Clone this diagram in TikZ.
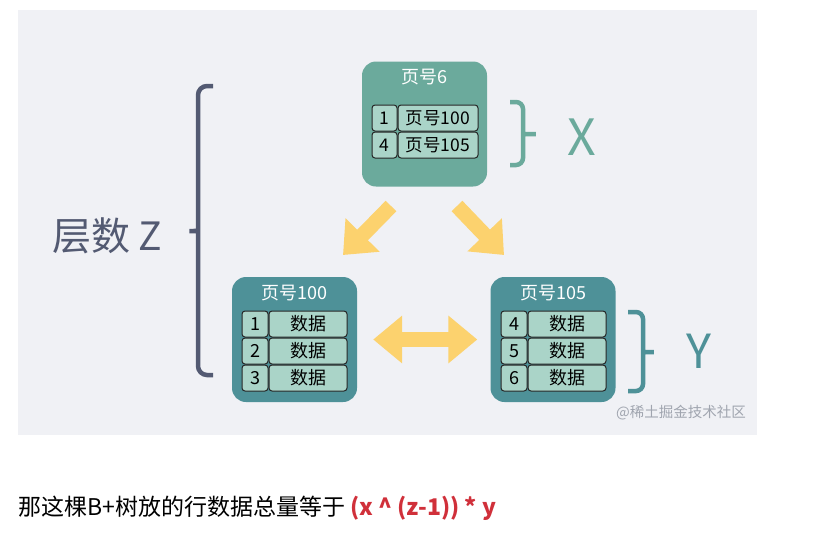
\documentclass[tikz,border=0pt]{standalone}
\usepackage{fontspec}
\setmainfont{Noto Sans CJK SC}
\usepackage{xcolor}
\usetikzlibrary{arrows.meta, positioning}

\definecolor{panelgray}{HTML}{F0F1F5}
\definecolor{topteal}{HTML}{6BAA9C}
\definecolor{lowteal}{HTML}{4E9198}
\definecolor{cellfill}{HTML}{AAD4C8}
\definecolor{arrowyellow}{HTML}{FCD26E}
\definecolor{slate}{HTML}{535A72}
\definecolor{formulared}{HTML}{D0303A}
\definecolor{markgray}{HTML}{A0A5AF}

\tikzset{
  page/.style={rounded corners=14pt, minimum width=125pt, minimum height=125pt, inner sep=0pt},
  title/.style={text=white, font=\fontsize{18}{18}\selectfont, inner sep=0pt},
  keycell/.style={draw=black!85, line width=1pt, fill=cellfill, rounded corners=3pt,
    minimum width=26pt, minimum height=26pt, inner sep=0pt, font=\fontsize{18}{18}\selectfont},
  valcell/.style={keycell, minimum width=78pt},
  fatarrow/.style={draw=arrowyellow, line width=15pt},
  bracket/.style={line width=4.5pt, rounded corners=9pt},
}

\begin{document}
\begin{tikzpicture}[x=1pt, y=-1pt]
        \useasboundingbox (0,0) rectangle (818,544);
        \fill[panelgray] (18,10) rectangle (757,435);

        % top page
        \node[page, fill=topteal] (p6) at (424.5,124) {};
        \node[title] (t6) at ([yshift=-16pt]p6.north) {页号6};
        \node[keycell, minimum width=25pt, font=\fontsize{17.5}{17.5}\selectfont] (k61) at (384.5,118) {1};
        \node[valcell, minimum width=80pt, font=\fontsize{17.5}{17.5}\selectfont, right=0pt of k61] (v61) {页号100};
        \node[keycell, minimum width=25pt, font=\fontsize{17.5}{17.5}\selectfont, below=0pt of k61] (k62) {4};
        \node[valcell, minimum width=80pt, font=\fontsize{17.5}{17.5}\selectfont, right=0pt of k62] (v62) {页号105};

        % leaf pages
        \node[page, fill=lowteal] (p100) at (294.5,339.5) {};
        \node[title] (t100) at ([yshift=-16pt]p100.north) {页号100};
        \node[keycell] (k1) at (255,324) {1};
        \node[valcell, right=0pt of k1] (d1) {数据};
        \node[keycell, below=0pt of k1] (k2) {2};
        \node[valcell, right=0pt of k2] (d2) {数据};
        \node[keycell, below=0pt of k2] (k3) {3};
        \node[valcell, right=0pt of k3] (d3) {数据};

        \node[page, fill=lowteal] (p105) at (553,339.5) {};
        \node[title] (t105) at ([yshift=-16pt]p105.north) {页号105};
        \node[keycell] (k4) at (514,324) {4};
        \node[valcell, right=0pt of k4] (d4) {数据};
        \node[keycell, below=0pt of k4] (k5) {5};
        \node[valcell, right=0pt of k5] (d5) {数据};
        \node[keycell, below=0pt of k5] (k6) {6};
        \node[valcell, right=0pt of k6] (d6) {数据};

        % yellow arrows
        \coordinate (la) at (391,206);
        \coordinate (lb) at (343,255);
        \coordinate (ra) at (457,206);
        \coordinate (rb) at (504,255);
        \draw[fatarrow, -{Triangle[length=28pt,width=46pt]}] (la) -- (lb);
        \draw[fatarrow, -{Triangle[length=28pt,width=46pt]}] (ra) -- (rb);
        \draw[fatarrow, {Triangle[length=29pt,width=46pt]}-{Triangle[length=29pt,width=46pt]},
          shorten <=16pt, shorten >=13pt] (p100) -- (p105);

        % braces and labels
        \draw[bracket, draw=slate] (213,86) -| (198,224) .. controls (198,231) .. (184,231)
          .. controls (198,231) .. (198,238) |- (213,375);
        \node[anchor=east, text=slate, font=\fontsize{39}{39}\selectfont] (layers) at (166,236) {层数 Z};
        \draw[bracket, draw=topteal, rounded corners=7pt] (510,102) -| (523,127) .. controls (523,134) .. (540,134)
          .. controls (523,134) .. (523,141) |- (510,165);
        \node[text=topteal, font=\fontsize{50}{50}\selectfont] (xlabel) at (582,137) {X};
        \draw[bracket, draw=lowteal, rounded corners=7pt] (628,312) -| (643,345) .. controls (643,352) .. (658,352)
          .. controls (643,352) .. (643,359) |- (628,391);
        \node[text=lowteal, font=\fontsize{47}{47}\selectfont] (ylabel) at (699,351) {Y};

        \node[text=markgray, font=\fontsize{14.5}{14.5}\selectfont] (mark) at (681,413) {@稀土掘金技术社区};

        % caption line
        \node[anchor=west, inner sep=0pt, font=\fontsize{23}{23}\selectfont] (caption) at (18,508)
          {那这棵B+树放的行数据总量等于 \textcolor{formulared}{\bfseries (x \textasciicircum{} (z-1)) * y}};
    \end{tikzpicture}
\end{document}
